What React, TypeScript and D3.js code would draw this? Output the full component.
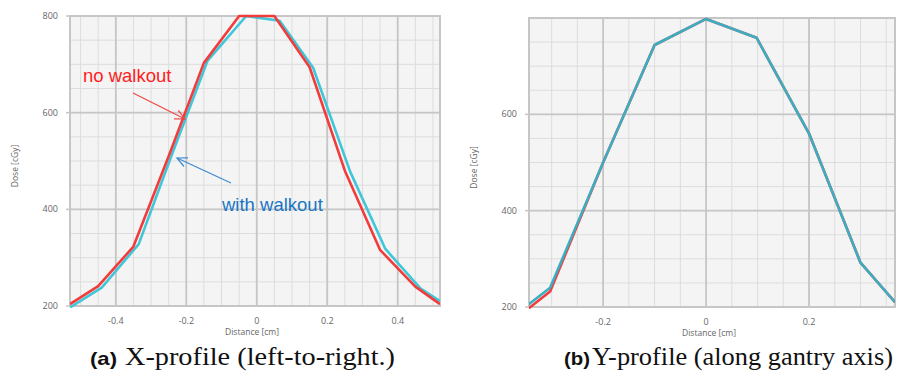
import React from "react";
import * as d3 from "d3";

// X-profile, no walkout
const xProfileNoWalkX = [-0.53, -0.45, -0.35, -0.25, -0.15, -0.05, 0.05, 0.15, 0.25, 0.35, 0.45, 0.52];
const xProfileNoWalkDose = [204, 241, 323, 510, 703, 800, 800, 694, 480, 316, 240, 204];
// X-profile, with walkout
const xProfileWalkX = [-0.53, -0.44, -0.335, -0.24, -0.14, -0.03, 0.065, 0.16, 0.265, 0.365, 0.465, 0.52];
const xProfileWalkDose = [197, 238, 328, 515, 707, 800, 790, 693, 478, 318, 236, 210];

// Y-profile, no walkout
const yProfileNoWalkX = [-0.345, -0.303, -0.2, -0.1, 0, 0.098, 0.2, 0.3, 0.367];
const yProfileNoWalkDose = [197, 232, 500, 744, 798, 759, 560, 292, 210];
// Y-profile, with walkout
const yProfileWalkX = [-0.345, -0.303, -0.2, -0.1, 0, 0.098, 0.2, 0.3, 0.367];
const yProfileWalkDose = [205, 240, 500, 744, 798, 759, 560, 292, 210];

const xTicksA = [-0.4, -0.2, 0, 0.2, 0.4];
const xTicksB = [-0.2, 0, 0.2];
const yTicksA = [200, 400, 600, 800];
const yTicksB = [200, 400, 600];

const RED = "#F23B3B";
const CYAN = "#3FC6D8";
const CYAN_B = "#3BAEC2";

type Series = { xs: number[]; ys: number[]; color: string };

type PanelProps = {
  left: number;
  right: number;
  top: number;
  bottom: number;
  xDomain: [number, number];
  yDomain: [number, number];
  xTicks: number[];
  yTicks: number[];
  series: Series[];
};

const fmt = (v: number) => (Math.abs(v) < 1e-9 ? "0" : String(+v.toFixed(1)));

function Panel({ left, right, top, bottom, xDomain, yDomain, xTicks, yTicks, series }: PanelProps) {
  const x = d3.scaleLinear().domain(xDomain).range([left, right]);
  const y = d3.scaleLinear().domain(yDomain).range([bottom, top]);
  const xMinor = d3
    .range(Math.ceil(xDomain[0] / 0.05 - 1e-6), Math.floor(xDomain[1] / 0.05 + 1e-6) + 1)
    .map((k) => k * 0.05);
  const yMinor = d3.range(yDomain[0], yDomain[1] + 1, 50);
  const line = d3
    .line<[number, number]>()
    .x((d) => x(d[0]))
    .y((d) => y(d[1]));
  const clipId = `clip-${left}`;
  const tickFont = { fontFamily: "'Open Sans', 'Noto Sans', sans-serif", fontSize: 9, fill: "#666666" };
  return (
    <g>
      <defs>
        <clipPath id={clipId}>
          <rect x={left} y={top - 2} width={right - left} height={bottom - top + 4} />
        </clipPath>
      </defs>
      <rect x={left} y={top} width={right - left} height={bottom - top} fill="#F4F4F4" />
      {xMinor.map((v) => (
        <line key={`xm${v}`} x1={x(v)} x2={x(v)} y1={top} y2={bottom} stroke="#DDDDDD" strokeWidth={1} />
      ))}
      {yMinor.map((v) => (
        <line key={`ym${v}`} x1={left} x2={right} y1={y(v)} y2={y(v)} stroke="#DDDDDD" strokeWidth={1} />
      ))}
      {xTicks.map((v) => (
        <line key={`xM${v}`} x1={x(v)} x2={x(v)} y1={top} y2={bottom} stroke="#C6C6C6" strokeWidth={1.8} />
      ))}
      {yTicks.map((v) => (
        <line key={`yM${v}`} x1={left} x2={right} y1={y(v)} y2={y(v)} stroke="#C6C6C6" strokeWidth={1.8} />
      ))}
      <rect
        x={left}
        y={top}
        width={right - left}
        height={bottom - top}
        fill="none"
        stroke="#C6C6C6"
        strokeWidth={2}
      />
      {yTicks.map((v) => (
        <g key={`yt${v}`}>
          <line x1={left - 4} x2={left} y1={y(v)} y2={y(v)} stroke="#C6C6C6" strokeWidth={1.5} />
          <text x={left - 12} y={y(v)} dy="0.35em" textAnchor="end" {...tickFont}>
            {v}
          </text>
        </g>
      ))}
      {xTicks.map((v) => (
        <text key={`xt${v}`} x={x(v)} y={bottom + 18} textAnchor="middle" {...tickFont}>
          {fmt(v)}
        </text>
      ))}
      <text
        x={(left + right) / 2 - 3}
        y={bottom + 29}
        textAnchor="middle"
        {...tickFont}
        fontSize={8.5}
      >
        Distance [cm]
      </text>
      <text
        transform={`translate(${left - 52},${(top + bottom) / 2 + 5}) rotate(-90)`}
        textAnchor="middle"
        {...tickFont}
        fontSize={8.5}
      >
        Dose [cGy]
      </text>
      <g clipPath={`url(#${clipId})`}>
        {series.map((s, i) => (
          <path
            key={i}
            d={line(s.xs.map((v, j) => [v, s.ys[j]] as [number, number])) ?? ""}
            fill="none"
            stroke={s.color}
            strokeWidth={2.6}
            strokeLinejoin="round"
          />
        ))}
      </g>
    </g>
  );
}

function Arrow({ x1, y1, x2, y2, color }: { x1: number; y1: number; x2: number; y2: number; color: string }) {
  const a = Math.atan2(y2 - y1, x2 - x1);
  const len = 11;
  const spread = 0.45;
  const h1 = [x2 - len * Math.cos(a - spread), y2 - len * Math.sin(a - spread)];
  const h2 = [x2 - len * Math.cos(a + spread), y2 - len * Math.sin(a + spread)];
  return (
    <g stroke={color} strokeWidth={1.2} fill="none">
      <line x1={x1} y1={y1} x2={x2} y2={y2} />
      <polyline points={`${h1[0]},${h1[1]} ${x2},${y2} ${h2[0]},${h2[1]}`} />
    </g>
  );
}

export default function App() {
  const serif = "'Liberation Serif', 'Times New Roman', serif";
  const sans = "'Liberation Sans', Arial, sans-serif";
  return (
    <svg
      width={901}
      height={372}
      viewBox="0 0 901 372"
      style={{ position: "absolute", left: 0, top: 0, background: "#ffffff" }}
    >
      <Panel
        left={70}
        right={440}
        top={16}
        bottom={306}
        xDomain={[-0.53, 0.52]}
        yDomain={[200, 800]}
        xTicks={xTicksA}
        yTicks={yTicksA}
        series={[
          { xs: xProfileWalkX, ys: xProfileWalkDose, color: CYAN },
          { xs: xProfileNoWalkX, ys: xProfileNoWalkDose, color: RED },
        ]}
      />
      <Panel
        left={529}
        right={895}
        top={18}
        bottom={307}
        xDomain={[-0.344, 0.367]}
        yDomain={[200, 800]}
        xTicks={xTicksB}
        yTicks={yTicksB}
        series={[
          { xs: yProfileNoWalkX, ys: yProfileNoWalkDose, color: RED },
          { xs: yProfileWalkX, ys: yProfileWalkDose, color: CYAN_B },
        ]}
      />

      <text x={83} y={82} fontFamily={sans} fontSize={18.5} fill="#FF2020">
        no walkout
      </text>
      <Arrow x1={133} y1={93} x2={185} y2={119} color="#F04545" />
      <text x={222} y={211} fontFamily={sans} fontSize={18.5} fill="#1A74C4">
        with walkout
      </text>
      <Arrow x1={231} y1={183} x2={177} y2={158} color="#3C8AD0" />

      <text x={90} y={365} fontFamily={sans} fontSize={19} fontWeight="bold" fill="#111" textLength={27} lengthAdjust="spacingAndGlyphs">
        (a)
      </text>
      <text x={125} y={365} fontFamily={serif} fontSize={26} fill="#111" textLength={270} lengthAdjust="spacingAndGlyphs">
        X-profile (left-to-right.)
      </text>
      <text x={564} y={365} fontFamily={sans} fontSize={19} fontWeight="bold" fill="#111" textLength={26} lengthAdjust="spacingAndGlyphs">
        (b)
      </text>
      <text x={592} y={365} fontFamily={serif} fontSize={26} fill="#111" textLength={301} lengthAdjust="spacingAndGlyphs">
        Y-profile (along gantry axis)
      </text>
    </svg>
  );
}
